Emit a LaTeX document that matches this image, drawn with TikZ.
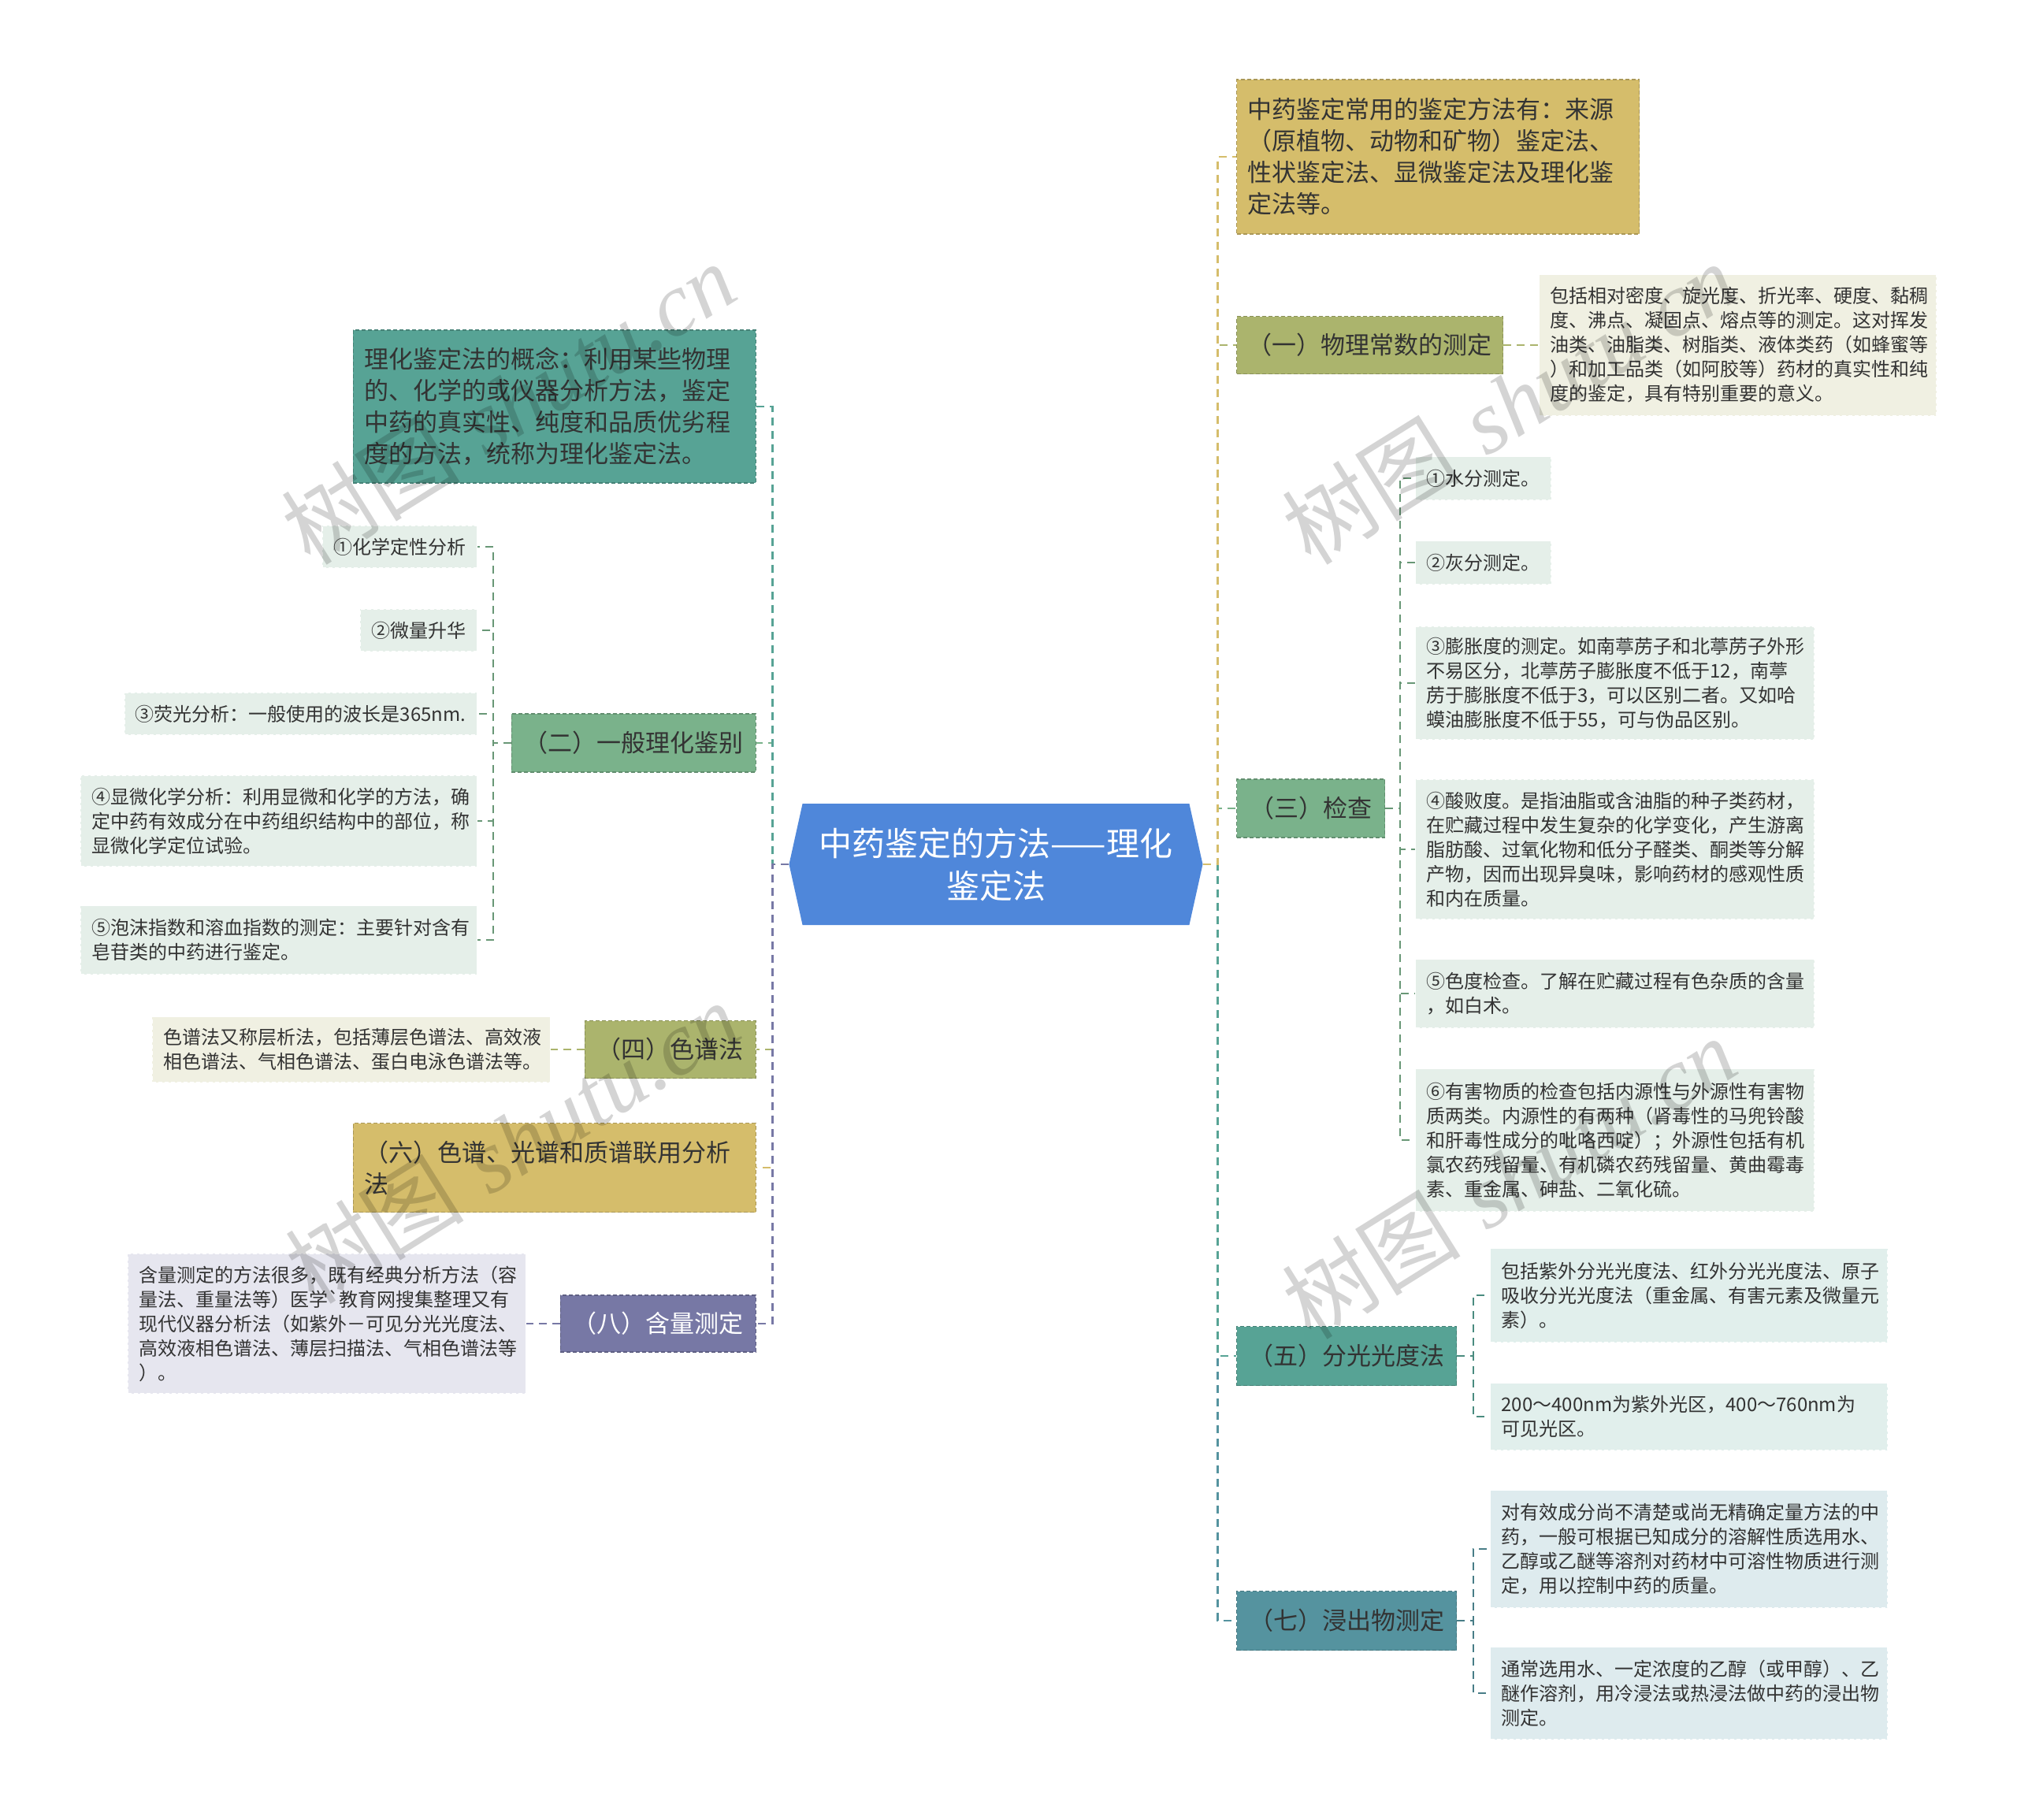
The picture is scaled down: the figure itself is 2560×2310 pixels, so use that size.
\documentclass[tikz,border=0pt]{standalone}
\usepackage{fontspec}
\newfontfamily\cjk{Noto Sans CJK SC}
\newfontfamily\wmserif{Liberation Serif}
\usetikzlibrary{shapes.symbols, positioning}

\definecolor{rootblue}{HTML}{4F87DA}
\definecolor{cGold}{HTML}{D5BD6B}
\definecolor{cOlive}{HTML}{ABB46D}
\definecolor{cGreen}{HTML}{7AB28B}
\definecolor{cTeal}{HTML}{57A395}
\definecolor{cSea}{HTML}{55939F}
\definecolor{cPurple}{HTML}{7778A5}
\definecolor{lOlive}{HTML}{F0F0E2}
\definecolor{lGreen}{HTML}{E5EFE9}
\definecolor{lTeal}{HTML}{E1EFEC}
\definecolor{lSea}{HTML}{DEEBEE}
\definecolor{lPurple}{HTML}{E6E6EF}

\begin{document}
\begin{tikzpicture}[x=1pt, y=-1pt,
    topic/.style={fill=#1, draw=#1!80!black, dash pattern=on 5pt off 3pt, line width=1.2pt,
      inner xsep=14pt, inner ysep=10pt, align=left, text=black!80,
      font=\cjk\fontsize{31}{40}\selectfont},
    leaf/.style={fill=#1, draw=white, dash pattern=on 5pt off 3pt, line width=1.2pt,
      inner xsep=14pt, inner ysep=10pt, align=left, text=black!80,
      font=\cjk\fontsize{24}{31}\selectfont},
    link/.style={draw=#1, line width=2.5pt, dash pattern=on 10pt off 7pt},
    stamp/.style={text=black, text opacity=0.17, rotate=32,
      font=\fontsize{114}{114}\selectfont}]

  \path[use as bounding box, fill=white] (0,0) rectangle (2560,2310);

  % centre
  \node[signal, signal to=west and east, signal pointer angle=155, fill=rootblue,
    minimum width=525pt, minimum height=154pt, align=center, text=white,
    font=\cjk\fontsize{42}{54}\selectfont] (root) at (1264,1097) {中药鉴定的方法——理化\\鉴定法};

  % right side
  \node[topic=cGold, anchor=west, text width=483pt, minimum height=196pt] (src) at (1569,199)
    {中药鉴定常用的鉴定方法有：来源\\（原植物、动物和矿物）鉴定法、\\性状鉴定法、显微鉴定法及理化鉴\\定法等。};

  \node[topic=cOlive, anchor=west, minimum width=338pt, minimum height=73pt] (phys) at (1569,438) {（一）物理常数的测定};
  \node[leaf=lOlive, anchor=west, text width=476pt, minimum height=179pt] (physA) at (1953,438)
    {包括相对密度、旋光度、折光率、硬度、黏稠\\度、沸点、凝固点、熔点等的测定。这对挥发\\油类、油脂类、树脂类、液体类药（如蜂蜜等\\）和加工品类（如阿胶等）药材的真实性和纯\\度的鉴定，具有特别重要的意义。};

  \node[topic=cGreen, anchor=west, minimum width=188pt, minimum height=74pt] (check) at (1569,1026) {（三）检查};
  \node[leaf=lGreen, anchor=west, minimum width=171pt, minimum height=55pt] (checkA) at (1796,607) {①水分测定。};
  \node[leaf=lGreen, anchor=west, minimum width=171pt, minimum height=55pt] (checkB) at (1796,714) {②灰分测定。};
  \node[leaf=lGreen, anchor=west, text width=478pt, minimum height=144pt] (checkC) at (1796,867)
    {③膨胀度的测定。如南葶苈子和北葶苈子外形\\不易区分，北葶苈子膨胀度不低于12，南葶\\苈于膨胀度不低于3，可以区别二者。又如哈\\蟆油膨胀度不低于55，可与伪品区别。};
  \node[leaf=lGreen, anchor=west, text width=478pt, minimum height=178pt] (checkD) at (1796,1078)
    {④酸败度。是指油脂或含油脂的种子类药材，\\在贮藏过程中发生复杂的化学变化，产生游离\\脂肪酸、过氧化物和低分子醛类、酮类等分解\\产物，因而出现异臭味，影响药材的感观性质\\和内在质量。};
  \node[leaf=lGreen, anchor=west, text width=478pt, minimum height=87pt] (checkE) at (1796,1261)
    {⑤色度检查。了解在贮藏过程有色杂质的含量\\，如白术。};
  \node[leaf=lGreen, anchor=west, text width=478pt, minimum height=181pt] (checkF) at (1796,1447)
    {⑥有害物质的检查包括内源性与外源性有害物\\质两类。内源性的有两种（肾毒性的马兜铃酸\\和肝毒性成分的吡咯西啶）；外源性包括有机\\氯农药残留量、有机磷农药残留量、黄曲霉毒\\素、重金属、砷盐、二氧化硫。};

  \node[topic=cTeal, anchor=west, minimum width=279pt, minimum height=75pt] (spec) at (1569,1721) {（五）分光光度法};
  \node[leaf=lTeal, anchor=west, text width=476pt, minimum height=119pt] (specA) at (1891,1644)
    {包括紫外分光光度法、红外分光光度法、原子\\吸收分光光度法（重金属、有害元素及微量元\\素）。};
  \node[leaf=lTeal, anchor=west, text width=476pt, minimum height=85pt] (specB) at (1891,1798)
    {200～400nm为紫外光区，400～760nm为\\可见光区。};

  \node[topic=cSea, anchor=west, minimum width=279pt, minimum height=75pt] (extr) at (1569,2057) {（七）浸出物测定};
  \node[leaf=lSea, anchor=west, text width=476pt, minimum height=149pt] (extrA) at (1891,1966)
    {对有效成分尚不清楚或尚无精确定量方法的中\\药，一般可根据已知成分的溶解性质选用水、\\乙醇或乙醚等溶剂对药材中可溶性物质进行测\\定，用以控制中药的质量。};
  \node[leaf=lSea, anchor=west, text width=476pt, minimum height=117pt] (extrB) at (1891,2149)
    {通常选用水、一定浓度的乙醇（或甲醇）、乙\\醚作溶剂，用冷浸法或热浸法做中药的浸出物\\测定。};

  % left side
  \node[topic=cTeal, anchor=east, text width=483pt, minimum height=194pt] (idea) at (960,516)
    {理化鉴定法的概念：利用某些物理\\的、化学的或仪器分析方法，鉴定\\中药的真实性、纯度和品质优劣程\\度的方法，统称为理化鉴定法。};

  \node[topic=cGreen, anchor=east, minimum width=310pt, minimum height=74pt] (gen) at (960,943) {（二）一般理化鉴别};
  \node[leaf=lGreen, anchor=east, minimum height=54pt] (genA) at (606,694) {①化学定性分析};
  \node[leaf=lGreen, anchor=east, minimum height=54pt] (genB) at (606,800) {②微量升华};
  \node[leaf=lGreen, anchor=east, minimum height=54pt] (genC) at (606,906) {③荧光分析：一般使用的波长是365nm.};
  \node[leaf=lGreen, anchor=east, text width=475pt, minimum height=116pt] (genD) at (606,1042)
    {④显微化学分析：利用显微和化学的方法，确\\定中药有效成分在中药组织结构中的部位，称\\显微化学定位试验。};
  \node[leaf=lGreen, anchor=east, text width=475pt, minimum height=87pt] (genE) at (606,1193)
    {⑤泡沫指数和溶血指数的测定：主要针对含有\\皂苷类的中药进行鉴定。};

  \node[topic=cOlive, anchor=east, minimum width=217pt, minimum height=73pt] (chrom) at (960,1332) {（四）色谱法};
  \node[leaf=lOlive, anchor=east, text width=477pt, minimum height=83pt] (chromA) at (699,1332)
    {色谱法又称层析法，包括薄层色谱法、高效液\\相色谱法、气相色谱法、蛋白电泳色谱法等。};

  \node[topic=cGold, anchor=east, text width=483pt, minimum height=113pt] (combo) at (960,1482)
    {（六）色谱、光谱和质谱联用分析\\法};

  \node[topic=cPurple, anchor=east, minimum width=248pt, minimum height=72pt, text=white] (assay) at (960,1680) {（八）含量测定};
  \node[leaf=lPurple, anchor=east, text width=477pt, minimum height=178pt] (assayA) at (668,1680)
    {含量测定的方法很多，既有经典分析方法（容\\量法、重量法等）医学`教育网搜集整理又有\\现代仪器分析法（如紫外－可见分光光度法、\\高效液相色谱法、薄层扫描法、气相色谱法等\\）。};

  % main branches
  \draw[link=cSea] (root.east) -- ++(19,0) |- (extr.west);
  \draw[link=cTeal] (root.east) -- ++(19,0) |- (spec.west);
  \draw[link=cGreen] (root.east) -- ++(19,0) |- (check.west);
  \draw[link=cOlive] (root.east) -- ++(19,0) |- (phys.west);
  \draw[link=cGold] (root.east) -- ++(19,0) |- (src.west);
  \draw[link=cGreen] (root.west) -- ++(-21,0) |- (gen.east);
  \draw[link=cTeal] (root.west) -- ++(-21,0) |- (idea.east);
  \draw[link=cOlive] (root.west) -- ++(-21,0) |- (chrom.east);
  \draw[link=cGold] (root.west) -- ++(-21,0) |- (combo.east);
  \draw[link=cPurple] (root.west) -- ++(-21,0) |- (assay.east);

  % sub branches
  \draw[link=cOlive] (phys.east) -- (physA.west);
  \foreach \k in {A,B,C,D,E,F}
    \draw[link=cGreen!85!black] (check.east) -- ++(19,0) |- (check\k.west);
  \foreach \k in {A,B}{
    \draw[link=cTeal!85!black] (spec.east) -- ++(21,0) |- (spec\k.west);
    \draw[link=cSea!85!black] (extr.east) -- ++(21,0) |- (extr\k.west);
  }
  \foreach \k in {A,B,C,D,E}
    \draw[link=cGreen!85!black] (gen.west) -- ++(-23,0) |- (gen\k.east);
  \draw[link=cOlive] (chrom.west) -- (chromA.east);
  \draw[link=cPurple] (assay.west) -- (assayA.east);

  % watermarks
  \foreach \i/\px/\py in {1/645/512, 2/1915/512, 3/650/1450, 4/1915/1495}
    \node[stamp] (wm\i) at (\px,\py) {{\cjk 树图} {\wmserif\itshape shutu.cn}};
\end{tikzpicture}
\end{document}
